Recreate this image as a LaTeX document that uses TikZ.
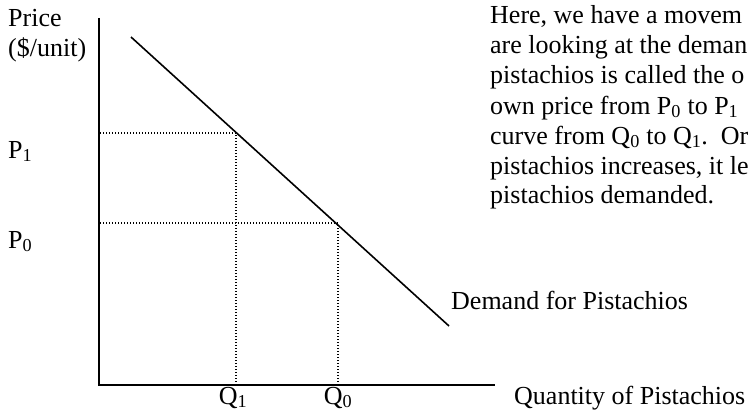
\documentclass[tikz,border=0pt]{standalone}
\usepackage{fontspec}
\setmainfont{Liberation Serif}
\begin{document}
\begin{tikzpicture}[x=1pt,y=-1pt,
  axis/.style={line width=1.8pt},
  demand/.style={line width=1.6pt},
  guide/.style={line width=1.1pt, dash pattern=on 1pt off 2pt},
  lbl/.style={inner sep=0pt, font=\fontsize{26}{30}\selectfont},
  para/.style={lbl, anchor=base west}]
\useasboundingbox (0,0) rectangle (748,412);
\clip (0,0) rectangle (748,412);
% axes
\coordinate (O) at (99,385);
\coordinate (ytop) at (99,18);
\coordinate (xend) at (495,385);
\draw[axis] (ytop) -- (O) -- (xend);
% demand
\coordinate (d0) at (131,37);
\coordinate (d1) at (449,326);
\draw[demand] (d0) -- (d1);
% guides
\coordinate (A) at (236,133);
\coordinate (B) at (338,223);
\coordinate (P1y) at (100,133);
\coordinate (P0y) at (100,223);
\coordinate (Q1x) at (236,384);
\coordinate (Q0x) at (338,384);
\draw[guide] (P1y) -- (A) -- (Q1x);
\draw[guide] (P0y) -- (B) -- (Q0x);
% labels
\node[lbl, anchor=base west] (price) at (8,27) {Price};
\node[lbl, anchor=base west] (unit) at (8,57) {(\$/unit)};
\node[lbl, anchor=base west] (p1) at (8,158) {P\textsubscript{1}};
\node[lbl, anchor=base west] (p0) at (8,248) {P\textsubscript{0}};
\node[lbl, anchor=base] (q1) at (233,404) {Q\textsubscript{1}};
\node[lbl, anchor=base] (q0) at (338,404) {Q\textsubscript{0}};
\node[lbl, anchor=base west] (dem) at (451,309) {Demand for Pistachios};
\node[lbl, anchor=base west] (qty) at (514,404) {Quantity of Pistachios};
% paragraph (cut off at the right edge)
\node[para] (l1) at (490,24) {Here, we have a movem};
\node[para] (l2) at (490,54) {are looking at the deman};
\node[para] (l3) at (490,84) {pistachios is called the o};
\node[para] (l4) at (490,114) {own price from P\textsubscript{0} to P\textsubscript{1}};
\node[para] (l5) at (490,144) {curve from Q\textsubscript{0} to Q\textsubscript{1}.\ \ Or};
\node[para] (l6) at (490,174) {pistachios increases, it le};
\node[para] (l7) at (490,204) {pistachios demanded.};
\end{tikzpicture}
\end{document}
